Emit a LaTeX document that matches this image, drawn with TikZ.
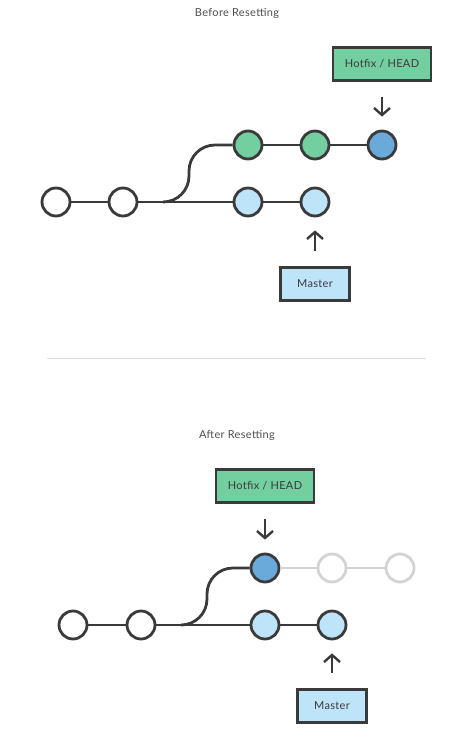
\documentclass[tikz,border=0pt]{standalone}
\usepackage{fontspec}
\setmainfont{Lato}[LetterSpace=3]
\usetikzlibrary{positioning}
\usetikzlibrary{arrows.meta}

\definecolor{ink}{HTML}{3A3A3A}
\definecolor{hotgreen}{HTML}{73CFA0}
\definecolor{paleblue}{HTML}{BEE4FA}
\definecolor{headblue}{HTML}{6AAADA}
\definecolor{faded}{HTML}{D3D3D3}
\definecolor{rule}{HTML}{DDDDDD}

\tikzset{
    commit/.style={circle, draw=ink, line width=2.8pt, minimum size=28pt, inner sep=0pt, fill=white},
    edge/.style={draw=ink, line width=2.8pt},
    branch/.style={edge, rounded corners=26pt},
    label box/.style={draw=ink, line width=2.6pt, minimum height=33pt, inner sep=0pt, text=ink, font=\fontsize{11}{13}\selectfont},
    ptr/.style={draw=ink, line width=2.4pt, -{Straight Barb[length=7pt,width=16pt,line width=2.4pt]}},
    caption/.style={text=ink!90, font=\fontsize{11}{13}\selectfont}
}

\begin{document}
\begin{tikzpicture}[x=1pt, y=-1pt]
\useasboundingbox (0,0) rectangle (451,738);

% before resetting
\node[caption] (title1) at (237,13) {Before Resetting};

\node[commit] (a1) at (56,202) {};
\node[commit] (a2) at (123,202) {};
\node[commit, fill=paleblue] (am1) at (248,202) {};
\node[commit, fill=paleblue] (am2) at (315,202) {};
\node[commit, fill=hotgreen] (ah1) at (248,145) {};
\node[commit, fill=hotgreen] (ah2) at (315,145) {};
\node[commit, fill=headblue] (ah3) at (382,145) {};
\coordinate (afork) at (163,202);
\coordinate (akink) at (189,145);

\draw[edge] (a1) -- (a2);
\draw[edge] (a2) -- (am1);
\draw[edge] (am1) -- (am2);
\draw[branch] (afork) -| (akink) -- (ah1);
\draw[edge] (ah1) -- (ah2);
\draw[edge] (ah2) -- (ah3);

\node[label box, fill=hotgreen, minimum width=98pt] (ahead) at (382,64) {Hotfix / HEAD};
\node[label box, fill=paleblue, minimum width=69pt] (amaster) at (315,284) {Master};
\draw[ptr, shorten <=15pt, shorten >=13pt] (ahead) -- (ah3);
\draw[ptr, shorten <=15pt, shorten >=13pt] (amaster) -- (am2);

\draw[rule, line width=1pt] (47,358) -- (426,358);

% after resetting
\node[caption] (title2) at (237,435) {After Resetting};

\node[commit] (b1) at (73,625) {};
\node[commit] (b2) at (141,625) {};
\node[commit, fill=paleblue] (bm1) at (265,625) {};
\node[commit, fill=paleblue] (bm2) at (332,625) {};
\node[commit, fill=headblue] (bh1) at (265,568) {};
\node[commit, draw=faded] (bh2) at (332,568) {};
\node[commit, draw=faded] (bh3) at (400,568) {};
\coordinate (bfork) at (181,625);
\coordinate (bkink) at (207,568);

\draw[edge] (b1) -- (b2);
\draw[edge] (b2) -- (bm1);
\draw[edge] (bm1) -- (bm2);
\draw[branch] (bfork) -| (bkink) -- (bh1);
\draw[edge, draw=faded] (bh1) -- (bh2);
\draw[edge, draw=faded] (bh2) -- (bh3);

\node[label box, fill=hotgreen, minimum width=98pt] (bhead) at (265,486) {Hotfix / HEAD};
\node[label box, fill=paleblue, minimum width=69pt] (bmaster) at (332,706) {Master};
\draw[ptr, shorten <=15pt, shorten >=13pt] (bhead) -- (bh1);
\draw[ptr, shorten <=15pt, shorten >=13pt] (bmaster) -- (bm2);
\end{tikzpicture}
\end{document}
